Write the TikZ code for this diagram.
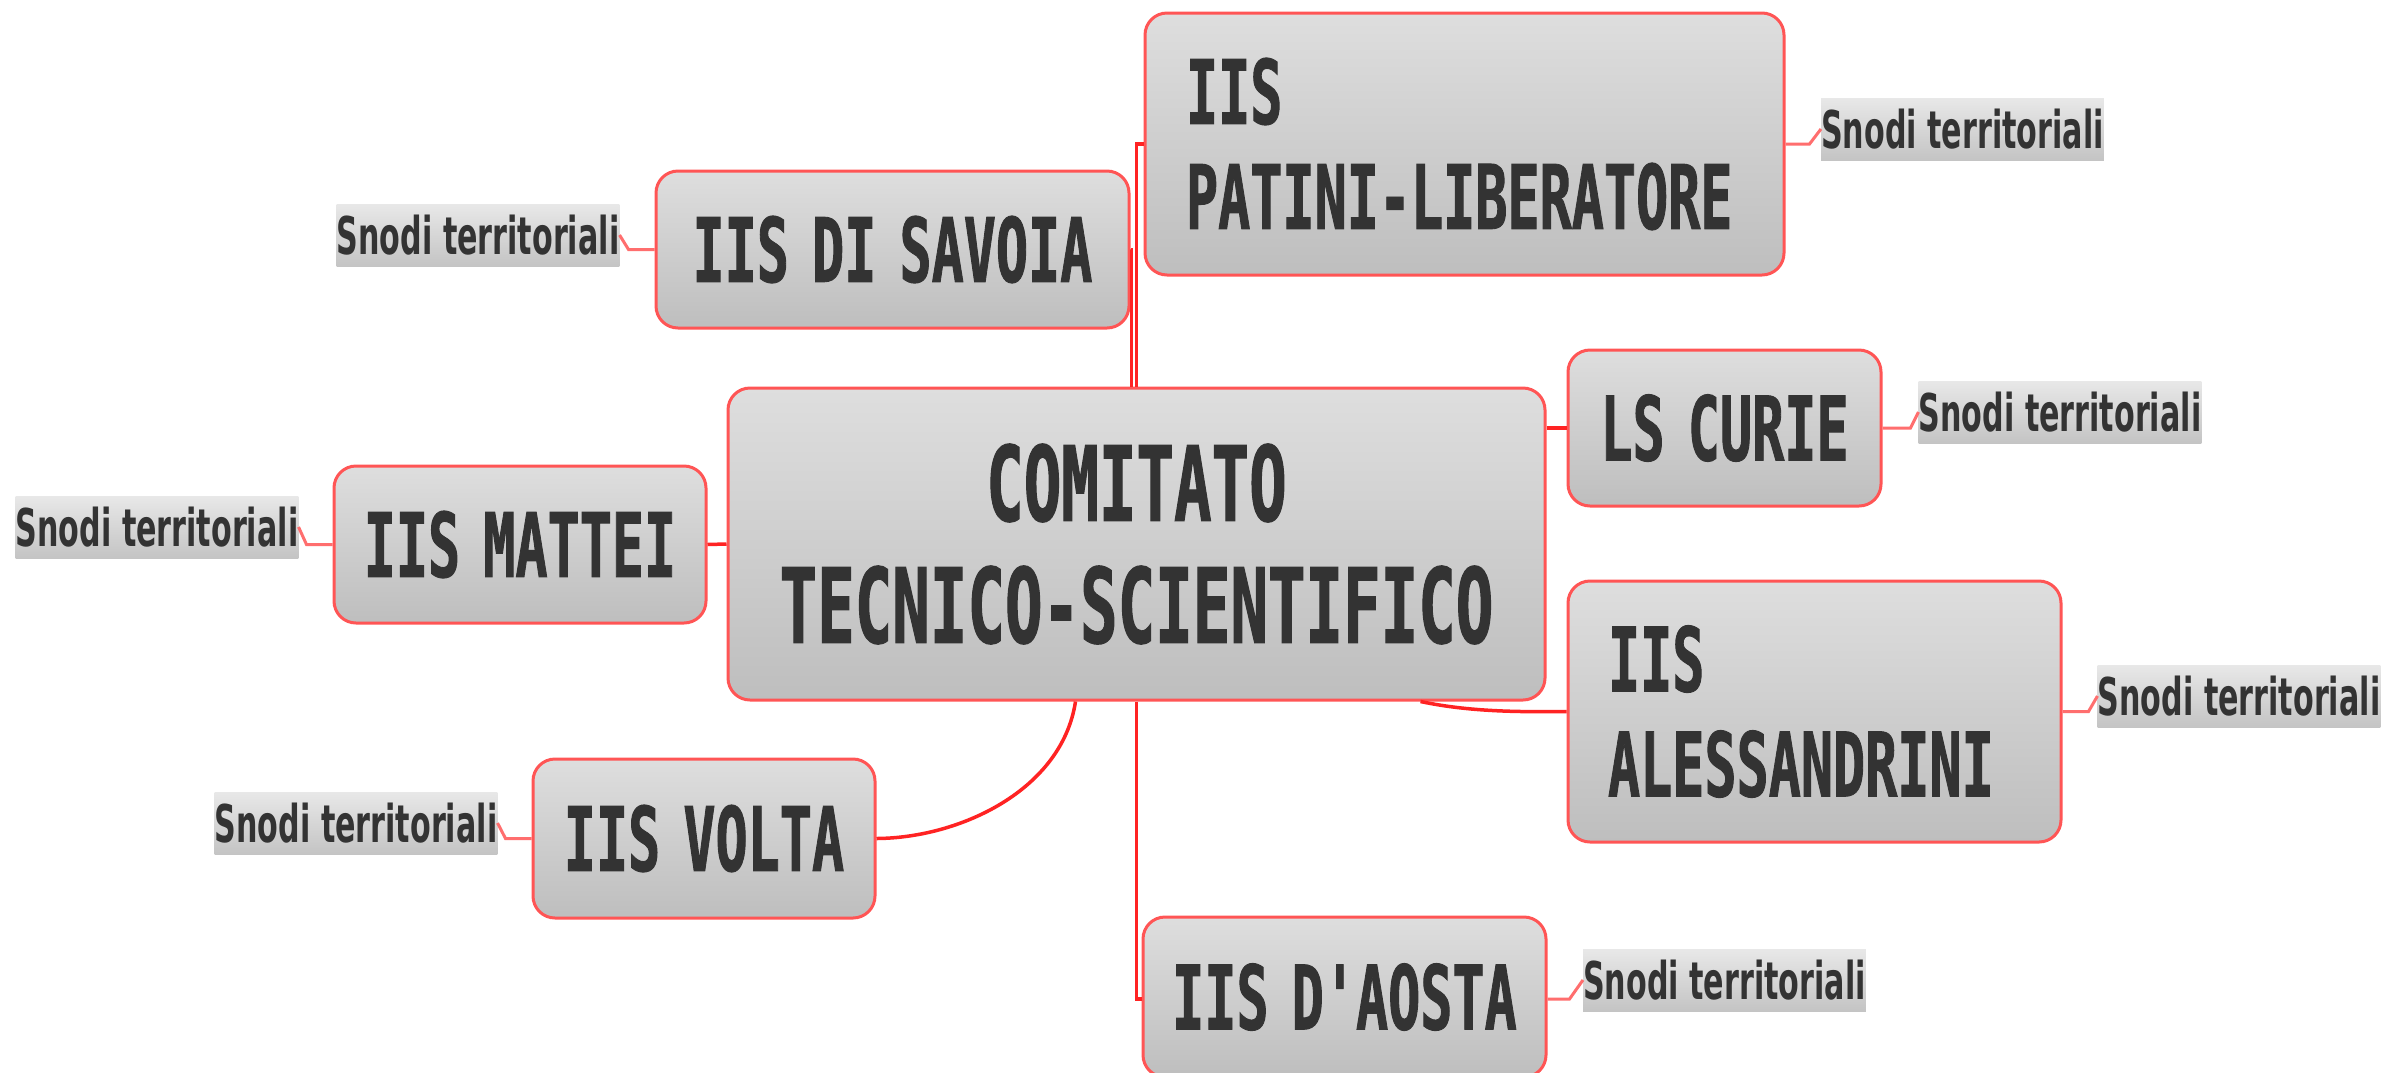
\documentclass[tikz,border=0pt]{standalone}
\usepackage{fontspec}
\newfontfamily\boxfont[FakeStretch=0.6,WordSpace=0.72,FakeBold=1]{DejaVu Sans Mono}
\newfontfamily\snodifont[FakeStretch=0.58]{DejaVu Sans}
\definecolor{linered}{RGB}{255,35,35}
\definecolor{boxred}{RGB}{255,85,85}
\definecolor{gtop}{RGB}{222,222,222}
\definecolor{gbot}{RGB}{190,190,190}
\definecolor{ink}{RGB}{51,51,51}
\definecolor{ltop}{RGB}{232,232,232}
\definecolor{lbot}{RGB}{196,196,196}
\definecolor{pinkline}{RGB}{255,110,110}
\begin{document}
\begin{tikzpicture}[x=1pt,y=-1pt,
  school/.style={draw=boxred, line width=3pt, rounded corners=22pt,
    top color=gtop, middle color=gbot, bottom color=gbot,
    text=ink, inner sep=0pt, align=center,
    font=\boxfont\bfseries\fontsize{89}{105}\selectfont},
  central/.style={school, font=\boxfont\bfseries\fontsize{104}{122}\selectfont},
  snodi/.style={top color=ltop, bottom color=lbot, middle color=lbot!50!ltop,
    text=ink, inner sep=0pt, minimum width=282pt, minimum height=62pt,
    font=\snodifont\bfseries\fontsize{52}{60}\selectfont},
  link/.style={draw=linered, line width=3.5pt},
  slink/.style={draw=pinkline, line width=3pt}]
\fill[white] (0,0) rectangle (2385,1072);
\useasboundingbox (0,0) rectangle (2385,1072);

% school nodes
\node[central, minimum width=817pt, minimum height=312pt] (cts) at (1136.5,544)
  {COMITATO\\TECNICO-SCIENTIFICO};
\node[school, align=left, text width=557pt, inner xsep=41pt, minimum height=262pt] (patini)
  at (1464.5,144) {IIS\\PATINI-LIBERATORE};
\node[school, minimum width=473pt, minimum height=157pt] (savoia) at (892.5,249.5) {IIS DI SAVOIA};
\node[school, minimum width=313pt, minimum height=156pt] (curie) at (1724.5,428) {LS CURIE};
\node[school, minimum width=372pt, minimum height=157pt] (mattei) at (520,544.5) {IIS MATTEI};
\node[school, align=left, text width=413pt, inner xsep=40pt, minimum height=261pt] (aless)
  at (1814.5,711.5) {IIS\\ALESSANDRINI};
\node[school, minimum width=342pt, minimum height=159pt] (volta) at (704,838.5) {IIS VOLTA};
\node[school, minimum width=403pt, minimum height=160pt] (aosta) at (1344.5,997) {IIS D'AOSTA};

% snodi labels
\node[snodi] (ssavoia) at (478,235) {Snodi territoriali};
\node[snodi] (spatini) at (1962.5,129) {Snodi territoriali};
\node[snodi] (scurie) at (2060,412) {Snodi territoriali};
\node[snodi] (saless) at (2239,696) {Snodi territoriali};
\node[snodi] (smattei) at (157,527) {Snodi territoriali};
\node[snodi] (svolta) at (356,823) {Snodi territoriali};
\node[snodi] (saosta) at (1724.5,980) {Snodi territoriali};

% main connectors
\draw[link] (cts.north) |- (patini.west);
\draw[link] ([xshift=-5pt]cts.north) |- (savoia.east);
\draw[link] (cts.west) -- (mattei.east);
\draw[link] (cts.east |- curie.west) -- (curie.west);
\draw[link] (cts.south) |- ([yshift=-2pt]aosta.west);
\draw[link] ([xshift=-61pt]cts.south) .. controls (1062,790) and (960,838) .. (volta.east);
\draw[link] ([xshift=284pt]cts.south) .. controls (1470,712) and (1520,712) .. (aless.west);

% snodi connectors
\draw[slink] (patini.east) -- ++(24,0) -- (spatini.west);
\draw[slink] (curie.east) -- ++(28,0) -- (scurie.west);
\draw[slink] (aless.east) -- ++(26,0) -- (saless.west);
\draw[slink] ([yshift=-2pt]aosta.east) -- ++(22,0) -- (saosta.west);
\draw[slink] (savoia.west) -- ++(-26,0) -- (ssavoia.east);
\draw[slink] (mattei.west) -- ++(-26,0) -- (smattei.east);
\draw[slink] (volta.west) -- ++(-26,0) -- (svolta.east);
\end{tikzpicture}
\end{document}
